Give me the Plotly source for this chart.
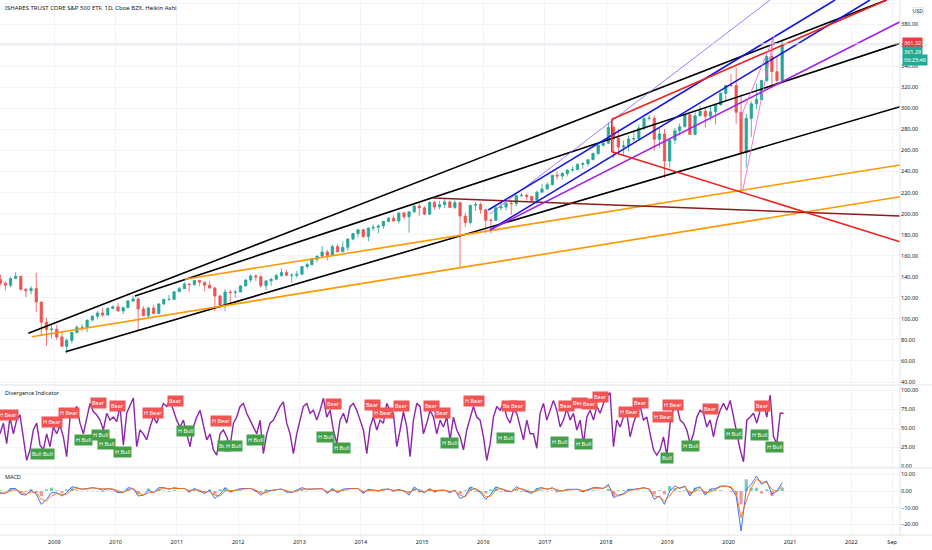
import pandas as pd
import plotly.graph_objects as go
from plotly.subplots import make_subplots

# ---- price, monthly bars Jan 2008 .. Nov 2020 ----
first_open = 146.5
closes = [
    137.4, 133.8, 132.0, 138.3, 140.4, 128.0, 126.7, 128.8, 116.0, 96.8, 89.9, 90.2,
    82.8, 73.9, 79.5, 87.0, 92.0, 92.0, 98.8, 102.5, 105.6, 103.6, 109.9, 111.4,
    107.4, 110.7, 117.0, 118.8, 109.4, 102.9, 110.3, 105.0, 114.1, 118.5, 118.5, 125.8,
    128.7, 133.2, 132.6, 136.4, 134.9, 132.0, 129.3, 121.7, 113.2, 125.5, 125.0, 125.5,
    131.3, 137.0, 140.8, 139.9, 131.5, 136.1, 137.7, 141.2, 144.0, 141.4, 141.5, 142.4,
    149.7, 151.6, 156.7, 159.7, 163.5, 160.4, 168.7, 163.7, 168.0, 175.8, 181.0, 184.7,
    178.2, 186.3, 187.0, 188.3, 192.7, 195.7, 193.1, 200.7, 197.0, 201.7, 207.2, 205.5,
    199.5, 210.7, 206.4, 208.5, 211.1, 205.9, 210.5, 197.7, 191.6, 207.9, 208.7, 203.9,
    193.7, 193.6, 205.5, 206.3, 209.8, 209.5, 217.1, 217.4, 216.3, 212.6, 220.4, 223.5,
    227.5, 236.5, 235.7, 238.1, 241.4, 241.8, 246.8, 247.5, 251.2, 257.2, 265.0, 266.9,
    281.9, 271.7, 263.2, 264.5, 270.9, 271.3, 281.3, 290.3, 290.7, 270.6, 275.7, 249.9,
    269.9, 278.7, 282.5, 294.0, 275.3, 293.0, 297.4, 292.5, 296.8, 303.3, 314.3, 321.9,
    321.7, 296.3, 257.8, 290.5, 304.3, 308.4, 326.5, 349.3, 334.9, 326.5, 361.3,
]
highs = [
    147.5, 142.0, 136.0, 140.0, 144.3, 141.0, 129.3, 131.2, 144.0, 116.0, 101.0, 93.9,
    94.5, 88.0, 81.5, 87.9, 93.9, 95.1, 99.2, 103.4, 107.3, 110.2, 111.2, 112.8,
    115.1, 111.6, 117.7, 122.1, 120.7, 112.2, 111.6, 113.3, 115.1, 119.0, 122.9, 126.2,
    130.3, 134.7, 133.6, 137.0, 137.2, 135.0, 135.7, 130.2, 123.0, 128.2, 127.6, 127.5,
    132.0, 137.5, 142.2, 142.2, 141.8, 136.3, 139.1, 142.9, 148.1, 146.2, 143.3, 145.6,
    150.0, 153.3, 156.9, 159.7, 169.1, 165.7, 170.5, 170.9, 173.6, 176.4, 181.8, 184.7,
    184.8, 186.7, 189.7, 189.7, 192.8, 196.5, 198.6, 200.7, 201.9, 201.8, 207.7, 209.6,
    206.9, 212.2, 212.2, 212.1, 213.8, 212.6, 212.6, 211.3, 200.9, 208.3, 211.0, 210.7,
    201.9, 195.6, 206.9, 210.9, 210.7, 212.5, 217.7, 219.6, 219.2, 216.7, 221.8, 228.3,
    229.7, 236.7, 240.3, 239.5, 241.9, 245.0, 248.0, 248.9, 251.5, 257.9, 265.3, 268.6,
    286.6, 283.3, 280.4, 269.6, 274.3, 279.5, 284.7, 291.7, 293.9, 293.2, 281.2, 280.4,
    270.5, 281.3, 285.9, 294.5, 294.9, 296.3, 302.2, 300.9, 302.6, 304.6, 315.5, 322.1,
    332.9, 339.1, 313.8, 294.9, 306.8, 323.4, 327.2, 351.3, 358.8, 349.9, 364.4,
]
lows = [
    126.1, 131.9, 126.8, 130.0, 137.7, 127.1, 120.7, 123.2, 106.6, 83.9, 74.3, 81.5,
    80.1, 74.0, 67.1, 76.5, 85.9, 88.3, 87.3, 97.7, 99.6, 101.9, 103.4, 109.1,
    107.2, 104.6, 110.6, 116.3, 89.0, 102.9, 101.1, 104.5, 104.8, 113.6, 117.3, 119.2,
    125.9, 128.6, 125.3, 131.1, 131.3, 126.2, 128.8, 107.4, 109.9, 107.4, 115.0, 120.0,
    126.0, 130.9, 134.7, 136.2, 129.7, 127.1, 131.4, 137.3, 139.8, 140.9, 134.5, 139.0,
    144.7, 147.6, 150.7, 153.6, 158.9, 155.7, 160.0, 163.0, 163.7, 164.5, 174.6, 177.3,
    176.9, 173.7, 183.9, 181.3, 185.4, 191.9, 192.3, 190.5, 194.4, 181.9, 200.8, 197.9,
    198.6, 198.5, 203.5, 204.1, 205.3, 205.4, 204.2, 149.0, 187.3, 189.8, 202.6, 199.8,
    181.0, 181.1, 193.5, 203.1, 202.8, 198.7, 207.1, 216.0, 212.4, 211.2, 208.4, 220.2,
    222.7, 226.8, 232.3, 232.5, 235.4, 240.0, 241.4, 242.8, 244.9, 251.7, 255.4, 263.7,
    268.2, 252.9, 257.8, 254.7, 259.0, 268.5, 269.8, 279.2, 288.4, 259.9, 262.7, 233.8,
    243.7, 266.2, 274.6, 282.4, 275.2, 274.5, 293.6, 281.7, 288.4, 284.8, 302.9, 307.1,
    320.4, 285.5, 220.0, 243.9, 272.9, 299.1, 309.5, 325.3, 319.8, 322.6, 327.2,
]

# ---- divergence indicator (RSI), sampled about every 20 days ----
rsi_first, rsi_last = "2008-02-12", "2020-11-23"
rsi = [
    43, 57, 30, 65, 43, 61, 68, 39, 8, 22,
    48, 57, 28, 22, 43, 26, 52, 43, 54, 39,
    13, 65, 70, 79, 57, 43, 65, 83, 72, 68,
    61, 48, 70, 61, 65, 59, 79, 28, 70, 81,
    90, 26, 48, 43, 35, 52, 65, 57, 70, 83,
    79, 87, 74, 61, 52, 61, 43, 26, 52, 65,
    74, 52, 35, 43, 22, 15, 43, 48, 39, 26,
    57, 65, 79, 83, 70, 61, 52, 43, 61, 17,
    43, 57, 61, 70, 79, 85, 57, 43, 17, 43,
    61, 79, 83, 70, 74, 61, 74, 90, 65, 74,
    48, 30, 61, 70, 57, 79, 83, 74, 61, 48,
    17, 52, 65, 48, 61, 57, 83, 74, 70, 26,
    48,
    72, 52, 13, 61, 83, 79, 43, 57, 74, 65,
    43, 61, 52, 65, 35, 65, 48, 39, 22, 48,
    65, 79, 65, 61, 39, 8, 30, 65, 79, 74,
    83, 65, 57, 74, 70, 52, 35, 61, 43, 43,
    24, 70, 83, 61, 74, 87, 74, 52, 61, 76,
    61, 70, 48, 61, 30, 65, 74, 61, 79, 70,
    83, 92, 97, 26, 61, 52, 65, 70, 39, 57,
    70, 79, 61, 65, 43, 22, 15, 22, 39, 15,
    57, 76, 79, 61, 57, 48, 30, 43, 65, 74,
    70, 52, 61, 39, 61, 74, 83, 74, 87, 65,
    43, 22, 6, 61, 65, 70, 57, 74, 83, 65,
    94, 39, 30, 70, 70,
]

bear_dates = [
    "2008-03-31", "2008-12-17", "2009-03-27", "2009-09-19", "2010-01-11", "2010-08-09",
    "2010-12-24", "2011-09-22", "2013-07-20", "2014-03-10", "2014-05-15", "2014-09-02",
    "2015-02-27", "2015-05-01", "2015-11-07", "2016-06-03", "2016-07-23", "2017-05-12",
    "2017-07-24", "2017-09-23", "2017-12-01", "2018-05-18", "2018-07-26", "2018-12-08",
    "2019-02-06", "2019-09-16", "2020-07-23",
]
bear_values = [68, 59, 71, 84, 79, 71, 86, 60, 82, 81, 70, 80, 80, 70, 86, 80, 80, 80,
               83, 82, 91, 72, 83, 65, 81, 75, 79]
bear_texts = ["H Bear", "H Bear", "H Bear", "Bear", "Bear", "H Bear", "Bear", "H Bear",
              "Bear", "Bear", "H Bear", "Bear", "Bear", "Bear", "H Bear", "Bear", "Bear",
              "Bear", "Bear", "Bear", "Bear", "H Bear", "Bear", "H Bear", "H Bear",
              "Bear", "Bear"]
bull_dates = [
    "2008-09-21", "2008-11-25", "2009-06-23", "2009-10-03", "2009-11-08", "2010-02-09",
    "2011-02-22", "2011-10-08", "2011-12-02", "2012-04-15", "2013-06-07", "2013-09-05",
    "2015-06-12", "2016-05-09", "2017-03-29", "2017-08-22", "2018-12-28", "2019-05-16",
    "2020-02-01", "2020-07-01", "2020-09-28",
]
bull_values = [17, 17, 35, 41, 30, 19, 47, 27, 27, 35, 39, 24, 31, 37, 32, 30, 11, 27,
               43, 41, 25]
bull_texts = ["Bull", "Bull", "H Bull", "H Bull", "H Bull", "H Bull", "H Bull", "Bull",
              "H Bull", "H Bull", "H Bull", "H Bull", "H Bull", "H Bull", "H Bull",
              "H Bull", "Bull", "H Bull", "H Bull", "H Bull", "H Bull"]

# ---- MACD, monthly ----
macd = [
    -2.5, -1, -1.5, 1.5, 1.5, -2, -2.5, 0.5, -2, -8, -5, -1,
    -1, -3, -1, 2.5, 2, 1, 1.5, 2, 1.5, 0.5, 1.5, 1,
    -1, -1, 2, 1.5, -3, -2.5, 0.5, -1, 2, 2, 1, 2,
    1.5, 1.5, -0.5, 1.5, 0, -1.5, 0.5, -4.5, -2, 2, -0.5, 0.5,
    1.5, 1.5, 1.5, 0, -2.5, 0, 0.5, 1, 1.2, -0.5, -1, 0.5,
    2, 1, 1.2, 1, 1.5, -1.5, 1.5, -1, 1, 1.5, 1.5, 1.5,
    -1.5, 1, 0.5, 0, 1, 1.2, 0, 1, 0, -2.5, 2.5, 0,
    -1, 1.5, -0.5, 0.5, 0.5, -1, 0.5, -4.5, -3, 2.5, 1, -1,
    -5, -2, 2.5, 1, 0, -0.5, 2.5, 1, -0.5, -1.5, 1.5, 2,
    1, 2, 0, 0, 1, 1, 1, -0.5, 1, 2, 2, 1.5,
    4, -4, -2.5, -1.5, 1, 1, 1.5, 2, 1, -5, -3, -8,
    0, 3, 1.5, 3, -3, 1.5, 2.5, -2.5, 1, 1.5, 3, 3,
    2, -3, -24, 1, 4, 9, 4, 6, -2, 0, 5,
]
signal = [
    -2, -1.5, -1.2, 0, 1, -0.5, -2, -0.5, -1, -5, -6, -3,
    -1.5, -2, -2, 0.5, 1.5, 1.2, 1.2, 1.8, 1.6, 1, 1.2, 1.2,
    0, -0.8, 0.5, 1.5, -1, -2.5, -1, -0.8, 0.5, 1.8, 1.5, 1.5,
    1.6, 1.5, 0.3, 0.8, 0.5, -0.8, -0.3, -2.5, -3, 0, 0.3, 0.2,
    1, 1.4, 1.5, 0.6, -1.5, -1, 0.2, 0.8, 1.1, 0.3, -0.8, 0,
    1.2, 1.2, 1.1, 1, 1.3, -0.3, 0.2, 0, 0.3, 1.2, 1.5, 1.5,
    -0.3, 0, 0.6, 0.2, 0.6, 1.1, 0.5, 0.6, 0.3, -1.2, 0.8, 0.8,
    -0.5, 0.5, 0.3, 0.2, 0.5, -0.3, 0, -2.5, -3.5, 0.5, 1.5, -0.3,
    -3.5, -3, 0.5, 1.5, 0.5, -0.3, 1.2, 1.5, 0.3, -0.8, 0, 1.5,
    1.3, 1.6, 0.8, 0, 0.6, 0.9, 1, 0.2, 0.6, 1.5, 1.8, 1.7,
    2.8, -1, -3, -2, -0.2, 0.8, 1.2, 1.8, 1.3, -3, -3.5, -6,
    -3, 1.5, 2, 2.5, -1, -0.5, 2, -1, -0.5, 1, 2.5, 3,
    2.5, -1, -16, -6, 2, 7, 5.5, 5, 1, -0.5, 3,
]

# ---- hand drawn trend lines (anchor date/price pairs) ----
line_x0 = ["2008-07-30", "2010-04-26", "2009-03-09", "2008-08-19", "2011-02-17",
           "2015-03-07", "2016-02-09", "2016-01-30", "2016-02-09", "2016-02-09",
           "2018-02-04", "2018-02-04", "2018-02-04", "2020-03-25", "2020-03-06"]
line_y0 = [86.3, 121.7, 68.8, 83.0, 137.6, 214.8, 199.6, 203.4, 184.4, 184.4,
           289.6, 289.6, 258.8, 221.8, 288.9]
line_x1 = ["2022-07-30", "2022-10-18", "2022-10-18", "2022-10-18", "2022-10-18",
           "2022-10-18", "2020-09-04", "2021-09-26", "2022-04-22", "2022-10-18",
           "2022-07-30", "2018-02-04", "2022-10-18", "2020-09-28", "2020-09-28"]
line_y1 = [403.0, 361.8, 301.6, 216.1, 246.2, 197.7, 403.0, 403.0, 403.0, 382.3,
           403.0, 258.8, 173.3, 368.7, 368.7]
line_kind = ["black", "black", "black", "orange", "orange", "maroon", "thin", "blue",
             "blue", "purple", "red", "red", "red", "pink", "pink"]

last_price = 361.32
last_close = 361.29
countdown = "06:25:46"

line_style = {
    "black": ("#000000", 1.6),
    "orange": ("#ff9800", 1.6),
    "maroon": ("#8e1b1b", 1.6),
    "thin": ("#7b61ff", 0.8),
    "blue": ("#1414e6", 1.6),
    "purple": ("#a020f0", 1.6),
    "red": ("#f21d1d", 1.6),
    "pink": ("#f06ad8", 0.9),
}

UP, DOWN = "#26a69a", "#ef5350"
GRID = "#f3f4f8"
SEP = "#e0e3eb"
TXT = "#131722"
FONT = "Noto Sans"
X_RANGE = ["2008-02-12", "2022-10-18"]

months = pd.date_range("2008-01-01", periods=len(closes), freq="MS") + pd.Timedelta(days=14)
opens = [first_open] + closes[:-1]
rsi_x = pd.date_range(rsi_first, rsi_last, periods=len(rsi))
hist = [m - s for m, s in zip(macd, signal)]
hist_colors = ["rgba(38,166,154,0.6)" if h >= 0 else "rgba(239,83,80,0.6)" for h in hist]

fig = make_subplots(rows=3, cols=1, shared_xaxes=True, vertical_spacing=0,
                    row_heights=[385, 83, 67])

fig.add_trace(go.Candlestick(
    x=months, open=opens, high=highs, low=lows, close=closes,
    increasing=dict(line=dict(color=UP, width=0.8), fillcolor=UP),
    decreasing=dict(line=dict(color=DOWN, width=0.8), fillcolor=DOWN),
    hoverinfo="skip"), row=1, col=1)

for x0, y0, x1, y1, kind in zip(line_x0, line_y0, line_x1, line_y1, line_kind):
    color, width = line_style[kind]
    fig.add_trace(go.Scatter(x=[x0, x1], y=[y0, y1], mode="lines",
                             line=dict(color=color, width=width), hoverinfo="skip"),
                  row=1, col=1)

fig.add_hline(y=last_price, row=1, col=1, line=dict(color="#dde0e8", width=1))

# RSI pane
fig.add_hrect(y0=30, y1=70, row=2, col=1, fillcolor="rgba(126,87,194,0.10)", line_width=0)
for lvl in (30, 50, 70):
    fig.add_hline(y=lvl, row=2, col=1, line=dict(color="rgba(126,87,194,0.30)", width=1))
fig.add_trace(go.Scatter(x=rsi_x, y=rsi, mode="lines",
                         line=dict(color="#8e24aa", width=1.4), hoverinfo="skip"),
              row=2, col=1)

for d, v, t in zip(bear_dates, bear_values, bear_texts):
    fig.add_annotation(x=d, y=v, xref="x2", yref="y2", text=t, showarrow=False,
                       xanchor="center", yanchor="middle",
                       bgcolor="#f05454", borderpad=1,
                       font=dict(family=FONT, size=5.5, color="white"))
for d, v, t in zip(bull_dates, bull_values, bull_texts):
    fig.add_annotation(x=d, y=v, xref="x2", yref="y2", text=t, showarrow=False,
                       xanchor="center", yanchor="middle",
                       bgcolor="#43a047", borderpad=1,
                       font=dict(family=FONT, size=5.5, color="white"))

# MACD pane
fig.add_trace(go.Bar(x=months, y=hist, marker_color=hist_colors, marker_line_width=0,
                     hoverinfo="skip"), row=3, col=1)
fig.add_trace(go.Scatter(x=months, y=macd, mode="lines",
                         line=dict(color="#2962ff", width=0.9), hoverinfo="skip"),
              row=3, col=1)
fig.add_trace(go.Scatter(x=months, y=signal, mode="lines",
                         line=dict(color="#ff6d00", width=0.9), hoverinfo="skip"),
              row=3, col=1)

# axes
year_ticks = [f"{y}-01-01" for y in range(2009, 2023)] + ["2022-09-01"]
year_text = [str(y) for y in range(2009, 2023)] + ["Sep"]
fig.update_xaxes(range=X_RANGE, showgrid=True, gridcolor=GRID, zeroline=False,
                 tickvals=year_ticks, ticktext=year_text, ticks="",
                 showticklabels=False, rangeslider_visible=False)
fig.update_xaxes(showticklabels=True, tickfont=dict(family=FONT, size=5.5, color=TXT),
                 ticklabelstandoff=2, row=3, col=1)
fig.update_yaxes(side="right", showgrid=True, gridcolor=GRID, zeroline=False, ticks="",
                 tickformat=".2f", tickfont=dict(family=FONT, size=5.5, color=TXT))
fig.update_yaxes(range=[37.15, 403.0], tickvals=list(range(40, 401, 20)), row=1, col=1)
fig.update_yaxes(range=[-2.0, 107.2], tickvals=[0, 25, 50, 75, 100], row=2, col=1)
fig.update_yaxes(range=[-26.4, 13.8], tickvals=[-20, -10, 0, 10], row=3, col=1)

# pane separators and axis border
for yy in (150 / 535, 67 / 535, 0):
    fig.add_shape(type="line", xref="paper", yref="paper", x0=0, x1=1.04, y0=yy, y1=yy,
                  line=dict(color=SEP, width=1))
fig.add_shape(type="line", xref="paper", yref="paper", x0=1, x1=1, y0=0, y1=1,
              line=dict(color=SEP, width=1))

# pane titles
for txt, ypx, size in (("ISHARES TRUST CORE S&P 500 ETF, 1D, Cboe BZX, Heikin Ashi", 8, 6),
                       ("Divergence Indicator", 393, 5.5),
                       ("MACD", 477, 5.5)):
    fig.add_annotation(text=txt, xref="paper", yref="paper", x=0, y=(535 - ypx) / 535,
                       xanchor="left", yanchor="middle", xshift=3, showarrow=False,
                       font=dict(family=FONT, size=size, color=TXT))

# right scale tags
fig.add_annotation(text="USD", xref="paper", yref="paper", x=1 + 18 / 900,
                   y=(535 - 11) / 535, xanchor="center", yanchor="middle",
                   showarrow=False, bgcolor="white",
                   bordercolor="#d1d4dc", borderwidth=0.5, borderpad=0.3,
                   font=dict(family=FONT, size=5, color=TXT))
for yv, txt, col in ((362.1, f"{last_price:.2f}", "#f23645"),
                     (354.0, f"{last_close:.2f}", "#22ab94"),
                     (345.9, countdown, "#22ab94")):
    fig.add_annotation(text=txt, xref="paper", yref="y", x=1 + 1.5 / 900, y=yv,
                       xanchor="left", yanchor="middle", showarrow=False,
                       bgcolor=col, borderpad=1,
                       font=dict(family=FONT, size=5.5, color="white"))

fig.update_layout(width=932, height=550, margin=dict(l=0, r=32, t=0, b=15),
                  paper_bgcolor="white", plot_bgcolor="white", showlegend=False,
                  bargap=0.3, font=dict(family=FONT, size=6, color=TXT))

fig.write_html("out.html", config={"displayModeBar": False},
               post_script="document.body.style.margin='0px';")
